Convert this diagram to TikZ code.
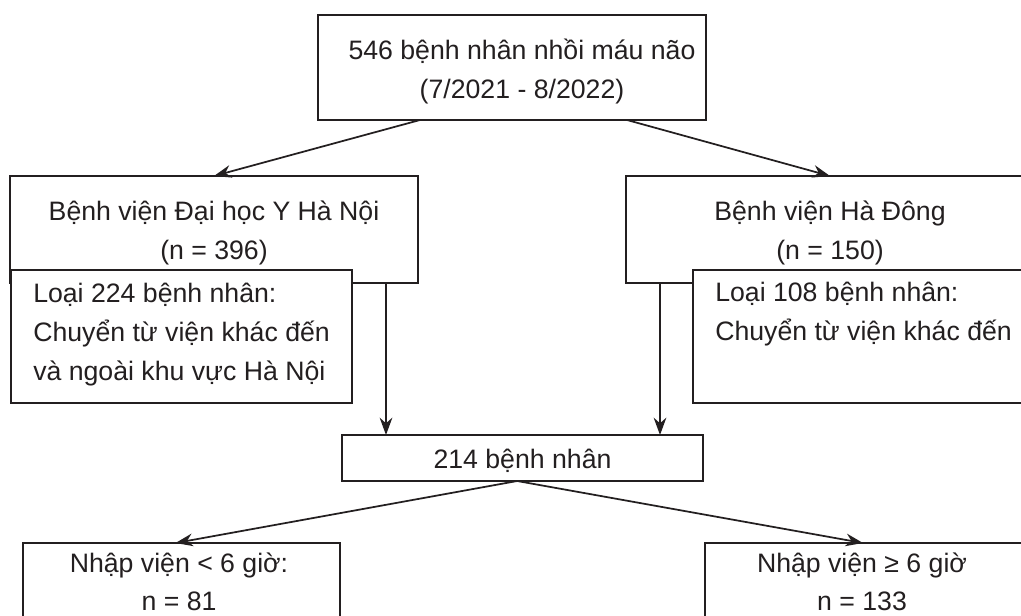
\documentclass[tikz,border=0pt]{standalone}
\usepackage{fontspec}
\setmainfont{Liberation Sans}
\usepackage{tikz}
\usetikzlibrary{arrows.meta,fit,calc}
\definecolor{ink}{HTML}{231F20}

\begin{document}
\begin{tikzpicture}[x=0.75pt,y=-0.75pt,
		box/.style={draw=ink,line width=1.3pt,fill=white,inner sep=0pt,outer sep=0pt},
		txt/.style={anchor=base,inner sep=0pt,text=ink,font=\fontsize{20pt}{29.25pt}\selectfont},
		txtl/.style={txt,anchor=base west},
		arr/.style={draw=ink,line width=1.3pt,-{Stealth[length=13pt,width=9.5pt]}}]
		\useasboundingbox (0,0) rectangle (1021,615);
		\clip (0,0) rectangle (1021,615);
		\fill[white] (0,0) rectangle (1021,615);
		
		\node[box,fit={(318,15) (706,120)}] (tong) {};
		\node[box,fit={(10,176) (418,283)}] (yhn) {};
		\node[box,fit={(626,176) (1034,283)}] (hd) {};
		\node[box,fit={(11,270) (352,403)}] (loaiyhn) {};
		\node[box,fit={(693,270) (1040,403)}] (loaihd) {};
		\node[box,fit={(342,435) (703,481)}] (chon) {};
		\node[box,fit={(23,543) (340,650)}] (duoi) {};
		\node[box,fit={(705,543) (1025,650)}] (tren) {};
		
		\node[txt] (tong1) at (522,59) {546 bệnh nhân nhồi máu não};
		\node[txt] (tong2) at (522,98) {(7/2021 - 8/2022)};
		\node[txt] (yhn1) at (214,220) {Bệnh viện Đại học Y Hà Nội};
		\node[txt] (yhn2) at (214,259) {(n = 396)};
		\node[txt] (hd1) at (830,220) {Bệnh viện Hà Đông};
		\node[txt] (hd2) at (830,259) {(n = 150)};
		\node[txtl] (loaiyhn1) at (33,302) {Loại 224 bệnh nhân:};
		\node[txtl] (loaiyhn2) at (33,341) {Chuyển từ viện khác đến};
		\node[txtl] (loaiyhn3) at (33,380) {và ngoài khu vực Hà Nội};
		\node[txtl] (loaihd1) at (715,301) {Loại 108 bệnh nhân:};
		\node[txtl] (loaihd2) at (715,340) {Chuyển từ viện khác đến};
		\node[txt] (chon1) at (522.5,468) {214 bệnh nhân};
		\node[txt] (duoi1) at (179,572) {Nhập viện < 6 giờ:};
		\node[txt] (duoi2) at (179,610) {n = 81};
		\node[txt] (tren1) at (862,572) {Nhập viện ≥ 6 giờ};
		\node[txt] (tren2) at (862,610) {n = 133};
		
		\draw[arr] ([xshift=-69pt]tong.south) -- (yhn.north);
		\draw[arr] ([xshift=86.25pt]tong.south) -- (hd.north);
		
		\coordinate (xuong1) at ([xshift=-24pt]yhn.south east);
		\coordinate (xuong2) at ([xshift=25.5pt]hd.south west);
		\draw[arr] (xuong1) -- (xuong1 |- chon.north);
		\draw[arr] (xuong2) -- (xuong2 |- chon.north);
		
		\draw[arr] ([xshift=-4pt]chon.south) -- ([xshift=-4.5pt]duoi.north);
		\draw[arr] ([xshift=-4pt]chon.south) -- ([xshift=-1.5pt]tren.north);
	\end{tikzpicture}
\end{document}
